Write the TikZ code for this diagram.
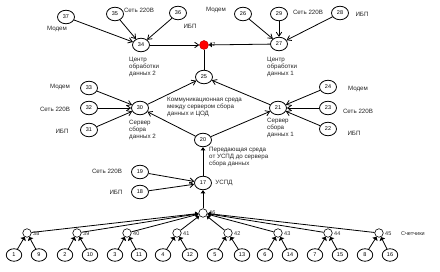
\documentclass[tikz,border=0pt]{standalone}
\usepackage{fontspec}
\setmainfont{Liberation Sans}
\usetikzlibrary{shapes.geometric,arrows.meta}
\begin{document}
\begin{tikzpicture}[x=1pt,y=-1pt,
 nd/.style={ellipse,draw,fill=white,line width=0.8pt,minimum width=17pt,minimum height=13.5pt,inner sep=0pt,font=\fontsize{5.5}{6}\selectfont},
 leaf/.style={nd,minimum width=15.5pt,minimum height=12.5pt},
 hub/.style={circle,draw,fill=white,line width=0.6pt,minimum size=8.5pt,inner sep=0pt},
 lbl/.style={font=\fontsize{6.2}{6.9}\selectfont,inner sep=0pt,text=black!85},
 mlbl/.style={lbl,align=left,anchor=north west},
 hl/.style={font=\fontsize{5.5}{6}\selectfont,inner sep=0pt,anchor=west,text=black!85},
 con/.style={line width=0.8pt},
 arr/.style={con,-{Straight Barb[length=4pt,width=5.5pt]}},
 tri/.style={con,-{Triangle[length=3.2pt,width=4.5pt]}},
 ltri/.style={con,-{Triangle[length=3pt,width=6pt]}},
]
\useasboundingbox (0,0) rectangle (440,272);
% top left group
\node[nd] (n37) at (66,17) {37};
\node[nd] (n35) at (115,14) {35};
\node[nd] (n36) at (178,13) {36};
\node[nd] (n34) at (141,45) {34};
\node[circle,fill=red,draw=red!70!black,minimum size=9pt,inner sep=0pt] (n47) at (204,45) {};
% top right group
\node[nd] (n26) at (243,14) {26};
\node[nd] (n29) at (279,14) {29};
\node[nd] (n28) at (340,13) {28};
\node[nd] (n27) at (279,44) {27};
\node[nd] (n25) at (204,77) {25};
% middle left
\node[nd] (n33) at (89,88) {33};
\node[nd] (n32) at (89,108) {32};
\node[nd] (n31) at (89,130) {31};
\node[nd] (n30) at (140,108) {30};
% middle right
\node[nd] (n24) at (328,87) {24};
\node[nd] (n23) at (328,108) {23};
\node[nd] (n22) at (328,129) {22};
\node[nd] (n21) at (278,108) {21};
\node[nd] (n20) at (203,140) {20};
% lower
\node[nd] (n19) at (140,172) {19};
\node[nd] (n18) at (140,192) {18};
\node[nd] (n17) at (203,183) {17};
\node[hub] (n46) at (203,213) {};
% hubs
\node[hub] (h38) at (27,233) {};
\node[hub] (h39) at (77,233) {};
\node[hub] (h40) at (127,233) {};
\node[hub] (h41) at (177,233) {};
\node[hub] (h42) at (228,233) {};
\node[hub] (h43) at (278,233) {};
\node[hub] (h44) at (328,233) {};
\node[hub] (h45) at (379,233) {};
% leaves
\node[leaf] (l1) at (14,255) {1};
\node[leaf] (l9) at (39,255) {9};
\node[leaf] (l2) at (65,255) {2};
\node[leaf] (l10) at (90,255) {10};
\node[leaf] (l3) at (115,255) {3};
\node[leaf] (l11) at (139,255) {11};
\node[leaf] (l4) at (163,255) {4};
\node[leaf] (l12) at (190,255) {12};
\node[leaf] (l5) at (215,255) {5};
\node[leaf] (l13) at (242,255) {13};
\node[leaf] (l6) at (265,255) {6};
\node[leaf] (l14) at (290,255) {14};
\node[leaf] (l7) at (315,255) {7};
\node[leaf] (l15) at (340,255) {15};
\node[leaf] (l8) at (365,255) {8};
\node[leaf] (l16) at (390,255) {16};
% connectors
\draw[arr] (n37) -- (n34);
\draw[arr] (n35) -- (n34);
\draw[arr] (n36) -- (n34);
\draw[arr] (n26) -- (n27);
\draw[arr] (n29) -- (n27);
\draw[arr] (n28) -- (n27);
\draw[arr] (n34) -- (n47);
\draw[tri] (n27) -- (n47);
\draw[con] (n25) -- (n47);
\draw[arr] (n30) -- (n25);
\draw[arr] (n21) -- (n25);
\draw[arr] (n33) -- (n30);
\draw[arr] (n32) -- (n30);
\draw[arr] (n31) -- (n30);
\draw[arr] (n24) -- (n21);
\draw[arr] (n23) -- (n21);
\draw[arr] (n22) -- (n21);
\draw[arr] (n20) -- (n30);
\draw[arr] (n20) -- (n21);
\draw[tri] (n17) -- (n20);
\draw[arr] (n19) -- (n17);
\draw[arr] (n18) -- (n17);
\draw[tri] (n46) -- (n17);
\foreach \h in {38,39,40,41,42,43,44,45} \draw[tri] (h\h) -- (n46);
\foreach \a/\b/\h in {1/9/38,2/10/39,3/11/40,4/12/41,5/13/42,6/14/43,7/15/44,8/16/45}{
  \draw[ltri] (l\a) -- (h\h);
  \draw[ltri] (l\b) -- (h\h);
}
% labels
\node[lbl] (t37) at (57,29) {Модем};
\node[lbl] (t35) at (139,10) {Сеть 220В};
\node[lbl] (t36) at (190,26) {ИБП};
\node[mlbl] (t34) at (129,57) {Центр\\обработки\\данных 2};
\node[hl] (t47) at (209,45) {47};
\node[lbl] (t26) at (216,10) {Модем};
\node[lbl] (t29) at (308,12) {Сеть 220В};
\node[lbl] (t28) at (362,14) {ИБП};
\node[mlbl] (t27) at (267,57) {Центр\\обработки\\данных 1};
\node[lbl] (t33) at (60,87) {Модем};
\node[lbl] (t32) at (55,109) {Сеть 220В};
\node[lbl] (t31) at (62,131) {ИБП};
\node[mlbl] (t30) at (129,120) {Сервер\\сбора\\данных 2};
\node[mlbl] (t25) at (167,97) {Коммуникационная среда\\между сервером сбора\\данных и ЦОД};
\node[mlbl] (t21) at (267,118) {Сервер\\сбора\\данных 1};
\node[lbl] (t24) at (358,89) {Модем};
\node[lbl] (t23) at (358,111) {Сеть 220В};
\node[lbl] (t22) at (354,133) {ИБП};
\node[mlbl] (t20) at (209,147) {Передающая среда\\от УСПД до сервера\\сбора данных};
\node[lbl] (t19) at (107,171) {Сеть 220В};
\node[lbl] (t18) at (116,192) {ИБП};
\node[lbl] (t17) at (224,183) {УСПД};
\node[hl] (t46) at (209,213) {46};
\foreach \h/\x in {38/27,39/77,40/127,41/177,42/228,43/278,44/328,45/379}
  \node[hl] (th\h) at (\x+6,234) {\h};
\node[hl] (tsc) at (401,234) {Счетчики};
\end{tikzpicture}
\end{document}
